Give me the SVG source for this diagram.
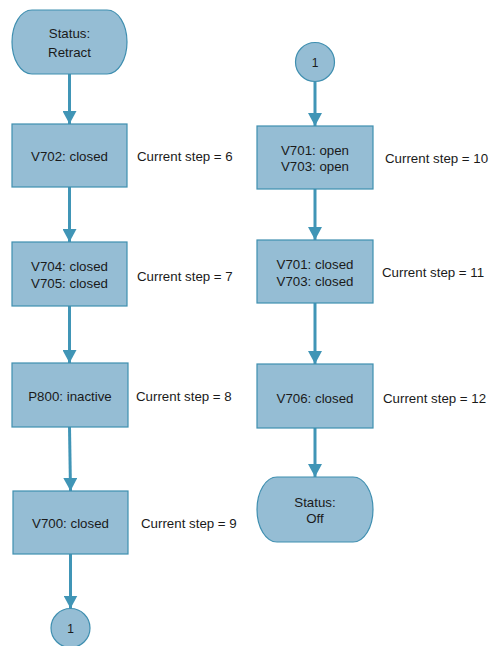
<svg xmlns="http://www.w3.org/2000/svg" width="490" height="646" viewBox="0 0 490 646">
  <defs>
    <marker id="arrow" viewBox="0 0 14 14" refX="13" refY="7" markerWidth="14" markerHeight="14" markerUnits="userSpaceOnUse" orient="auto">
      <path d="M0,0 L13,7 L0,14 Z" fill="#4095b6"/>
    </marker>
    <style>
      .shape { fill: #95bdd4; stroke: #3f8fb0; stroke-width: 1.2; }
      .txt { font-family: "Liberation Sans", Arial, sans-serif; font-size: 13.3px; fill: #1a1a1a; }
      .mid { text-anchor: middle; }
      .conn { fill: none; stroke: #4095b6; stroke-width: 3; marker-end: url(#arrow); }
    </style>
  </defs>
  <rect width="490" height="646" fill="#ffffff"/>

  <!-- connectors -->
  <g id="connectors">
    <line class="conn" x1="69.5" y1="74" x2="69.5" y2="124"/>
    <line class="conn" x1="69.5" y1="187" x2="69.5" y2="242"/>
    <line class="conn" x1="69.5" y1="306" x2="69.5" y2="363"/>
    <line class="conn" x1="69.5" y1="427" x2="70.5" y2="491"/>
    <line class="conn" x1="70.5" y1="554" x2="70.5" y2="608.5"/>
    <line class="conn" x1="315" y1="82" x2="315" y2="126"/>
    <line class="conn" x1="315" y1="189" x2="315" y2="240"/>
    <line class="conn" x1="315" y1="303" x2="315" y2="364"/>
    <line class="conn" x1="315" y1="428" x2="315" y2="477"/>
  </g>

  <!-- left column -->
  <g id="status-retract">
    <path class="shape" d="M32,10 H107 A20,32 0 0 1 107,74 H32 A20,32 0 0 1 32,10 Z"/>
    <text class="txt mid" x="69.5" y="38">Status:</text>
    <text class="txt mid" x="69.5" y="56.5">Retract</text>
  </g>
  <g id="step6">
    <rect class="shape" x="12" y="124" width="115" height="63"/>
    <text class="txt mid" x="69.5" y="161">V702: closed</text>
    <text class="txt" x="137" y="161">Current step = 6</text>
  </g>
  <g id="step7">
    <rect class="shape" x="12" y="242" width="115" height="64"/>
    <text class="txt mid" x="69.5" y="271">V704: closed</text>
    <text class="txt mid" x="69.5" y="288">V705: closed</text>
    <text class="txt" x="137" y="281">Current step = 7</text>
  </g>
  <g id="step8">
    <rect class="shape" x="12" y="363" width="116" height="64"/>
    <text class="txt mid" x="70" y="401">P800: inactive</text>
    <text class="txt" x="136" y="401">Current step = 8</text>
  </g>
  <g id="step9">
    <rect class="shape" x="13" y="491" width="115" height="63"/>
    <text class="txt mid" x="70.5" y="528">V700: closed</text>
    <text class="txt" x="141" y="528">Current step = 9</text>
  </g>
  <g id="link-out">
    <circle class="shape" cx="70.5" cy="628" r="19.5"/>
    <text class="txt mid" x="70.5" y="632.5" style="font-size:12px">1</text>
  </g>

  <!-- right column -->
  <g id="link-in">
    <circle class="shape" cx="315" cy="62" r="19.5"/>
    <text class="txt mid" x="315" y="66.5" style="font-size:12px">1</text>
  </g>
  <g id="step10">
    <rect class="shape" x="257" y="126" width="116" height="63"/>
    <text class="txt mid" x="315" y="154.5">V701: open</text>
    <text class="txt mid" x="315" y="171">V703: open</text>
    <text class="txt" x="385" y="162.5">Current step = 10</text>
  </g>
  <g id="step11">
    <rect class="shape" x="257" y="240" width="116" height="63"/>
    <text class="txt mid" x="315" y="268.5">V701: closed</text>
    <text class="txt mid" x="315" y="285.5">V703: closed</text>
    <text class="txt" x="382" y="277">Current step = 11</text>
  </g>
  <g id="step12">
    <rect class="shape" x="257" y="364" width="116" height="64"/>
    <text class="txt mid" x="315" y="402.5">V706: closed</text>
    <text class="txt" x="383" y="402.5">Current step = 12</text>
  </g>
  <g id="status-off">
    <path class="shape" d="M277,477 H353 A20,32.5 0 0 1 353,542 H277 A20,32.5 0 0 1 277,477 Z"/>
    <text class="txt mid" x="315" y="506.5">Status:</text>
    <text class="txt mid" x="315" y="522.5">Off</text>
  </g>
</svg>
